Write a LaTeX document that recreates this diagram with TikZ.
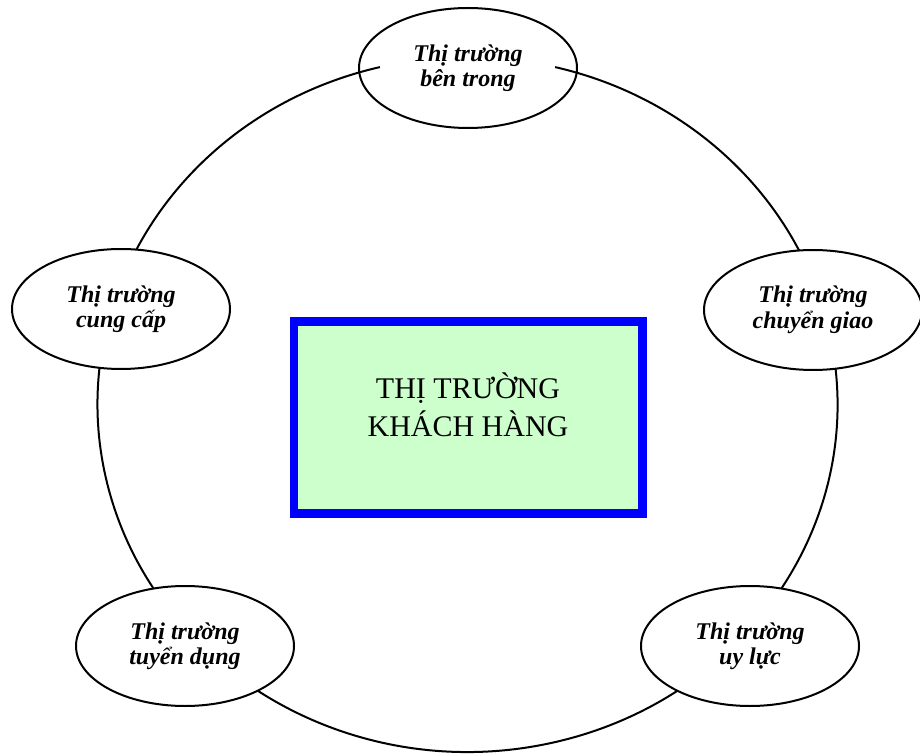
\documentclass[tikz,border=0pt]{standalone}
\usepackage{fontspec}
\setmainfont{Liberation Serif}
\usetikzlibrary{shapes.geometric}
\definecolor{boxfill}{HTML}{CCFFCC}
\begin{document}
\begin{tikzpicture}[x=1pt,y=1pt,
  market/.style={ellipse, draw=black, line width=2pt, fill=white,
    minimum width=218pt, minimum height=120pt, inner sep=0pt, align=center,
    font=\fontsize{24}{25.5}\selectfont\bfseries\itshape},
  ring/.style={line width=2pt},
  core/.style={draw=blue, line width=8.5pt, fill=boxfill,
    minimum width=348.5pt, minimum height=192pt, inner sep=0pt},
  coretext/.style={align=center, font=\fontsize{30}{38}\selectfont}]
\useasboundingbox (0,0) rectangle (920,753);

% outer ring, open at the top where the upper market sits
\coordinate (ringstart) at (379.9,685.9);
\draw[ring] (ringstart) arc[start angle=103.7, end angle=436.3,
  x radius=370pt, y radius=347.4pt];

% central box
\node[core] (core) at (468.25,335.5) {};
\node[coretext] (coretitle) at (468,348) {THỊ TRƯỜNG\\KHÁCH HÀNG};

% surrounding markets
\node[market, fill=none] (inner)   at (468,685) {Thị trường\\bên trong};
\node[market] (supply)   at (121,444) {Thị trường\\cung cấp};
\node[market] (transfer) at (813,443) {Thị trường\\chuyển giao};
\node[market] (recruit)  at (185,107) {Thị trường\\tuyển dụng};
\node[market] (power)    at (750,107) {Thị trường\\uy lực};
\end{tikzpicture}
\end{document}
